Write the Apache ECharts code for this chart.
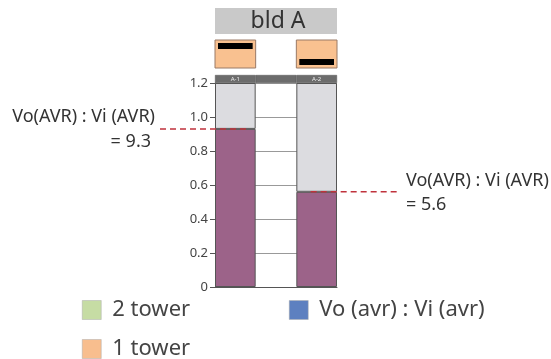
<!DOCTYPE html>
<html>
<head>
<meta charset="utf-8">
<script src="https://cdn.jsdelivr.net/npm/echarts@6/dist/echarts.min.js"></script>
<style>
  html, body { margin: 0; padding: 0; background: #fff; }
  #chart { width: 551px; height: 359px; }
</style>
</head>
<body>
<div id="chart"></div>
<script>
// Units of building A; the middle slot is the gap between the two towers
const categories = ['A-1', '', 'A-2'];
// Vo(avr) : Vi(avr) ratio per unit (scaled by 1/10 on the axis)
const ratioValues = [0.93, null, 0.56];
const ratioLabels = ['9.3', null, '5.6'];
const axisMax = 1.2;
const legendLeft = ['2 tower', '1 tower'];
const legendRight = ['Vo (avr) : Vi (avr)'];
const buildingName = 'bld A';
const annotationText = 'Vo(AVR) : Vi (AVR)';

const FONT = '"Noto Sans", "Open Sans", sans-serif';
const restValues = ratioValues.map(v => v == null ? null : +(axisMax - v).toFixed(2));

const chart = echarts.init(document.getElementById('chart'));

const legendText = { fontSize: 22, lineHeight: 19, color: '#444', fontFamily: FONT, padding: [0, 0, 0, 6] };

const option = {
  animation: false,
  textStyle: { fontFamily: FONT },
  grid: [
    { left: 215, right: 214, top: 83, bottom: 72 },
    { left: 215, right: 214, top: 75, height: 8 }
  ],
  xAxis: [
    {
      gridIndex: 0, type: 'category', data: categories,
      axisLine: { lineStyle: { color: '#555', width: 1 } },
      axisTick: { show: false }, axisLabel: { show: false },
      splitLine: { show: false }
    },
    {
      gridIndex: 1, type: 'category', data: categories,
      axisLine: { show: false }, axisTick: { show: false }, axisLabel: { show: false },
      splitLine: { show: false }
    }
  ],
  yAxis: [
    {
      gridIndex: 0, type: 'value', min: 0, max: axisMax, interval: 0.2,
      axisLine: { show: true, lineStyle: { color: '#555' } },
      axisTick: { show: true, length: 5, lineStyle: { color: '#555' } },
      axisLabel: {
        color: '#444', fontSize: 13, margin: 7,
        formatter: v => (v === 0 ? '0' : v.toFixed(1))
      },
      splitLine: { show: true, lineStyle: { color: '#999', width: 1.2, type: 'solid' } }
    },
    {
      gridIndex: 1, type: 'value', min: 0, max: 1, show: false
    }
  ],
  legend: [
    {
      data: legendLeft, orient: 'vertical', left: 82, top: 299, height: 80,
      padding: 0, icon: 'rect', itemWidth: 19, itemHeight: 19, itemGap: 17,
      itemStyle: { borderColor: '#aaa', borderWidth: 0.5 },
      textStyle: legendText, selectedMode: false
    },
    {
      data: legendRight, orient: 'vertical', left: 289, top: 299, height: 40,
      padding: 0, icon: 'rect', itemWidth: 19, itemHeight: 19,
      itemStyle: { borderColor: '#aaa', borderWidth: 0.5 },
      textStyle: legendText, selectedMode: false
    }
  ],
  series: [
    {
      name: 'ratio', type: 'bar', stack: 'u', xAxisIndex: 0, yAxisIndex: 0,
      barWidth: '100%', data: ratioValues,
      itemStyle: { color: '#9c6389', borderColor: '#555', borderWidth: 1 }
    },
    {
      name: 'rest', type: 'bar', stack: 'u', xAxisIndex: 0, yAxisIndex: 0,
      barWidth: '100%', data: restValues,
      itemStyle: { color: '#dcdce0', borderColor: '#555', borderWidth: 1 }
    },
    {
      name: 'header', type: 'bar', xAxisIndex: 1, yAxisIndex: 1,
      barWidth: '100%', data: categories.map(() => 1),
      itemStyle: { color: '#6c6c6c', borderColor: '#555', borderWidth: 0.5 },
      label: {
        show: true, position: 'inside', fontSize: 6, color: '#eee',
        formatter: p => categories[p.dataIndex]
      }
    },
    // Legend-only entries (no marks of their own)
    { name: legendLeft[0], type: 'line', data: [], itemStyle: { color: '#c6dca4' } },
    { name: legendLeft[1], type: 'line', data: [], itemStyle: { color: '#f8be8e' } },
    { name: legendRight[0], type: 'line', data: [], itemStyle: { color: '#5d80c0' } }
  ]
};
chart.setOption(option);

// Building title box and tower-position icons above each unit
function unitX(i) { return chart.convertToPixel({ xAxisIndex: 0 }, categories[i]); }
const left = unitX(0), right = unitX(2);
const half = (unitX(1) - unitX(0)) / 2;

const graphics = [
  { type: 'rect', shape: { x: left - half, y: 8, width: right - left + 2 * half, height: 26 },
    style: { fill: '#c9c9c9' } },
  { type: 'text', x: (left + right) / 2 + 2, y: 21,
    style: { text: buildingName, fill: '#333', font: '23px ' + FONT, textAlign: 'center', textVerticalAlign: 'middle' } },
  { type: 'rect', shape: { x: left - half, y: 40, width: 2 * half, height: 28 },
    style: { fill: '#f9c190', stroke: '#9a7a66', lineWidth: 1 } },
  { type: 'rect', shape: { x: left - half + 3, y: 43, width: 2 * half - 6, height: 6 },
    style: { fill: '#000' } },
  { type: 'rect', shape: { x: right - half, y: 40, width: 2 * half, height: 28 },
    style: { fill: '#f9c190', stroke: '#9a7a66', lineWidth: 1 } },
  { type: 'rect', shape: { x: right - half + 3, y: 59, width: 2 * half - 6, height: 6 },
    style: { fill: '#000' } }
];

// Dashed leader lines and ratio annotations at each bar top
const y1 = chart.convertToPixel({ gridIndex: 0 }, [categories[0], ratioValues[0]])[1];
const y2 = chart.convertToPixel({ gridIndex: 0 }, [categories[2], ratioValues[2]])[1];
const dash = { stroke: '#c0323c', lineWidth: 1.5, lineDash: [6, 4] };
const annFont = '18px ' + FONT;
graphics.push(
  { type: 'line', shape: { x1: 160, y1: y1, x2: left + 13, y2: y1 }, style: dash, z: 10 },
  { type: 'line', shape: { x1: right - 6, y1: y2, x2: 400, y2: y2 }, style: dash, z: 10 },
  { type: 'text', x: 155, y: y1 - 12,
    style: { text: annotationText, fill: '#333', font: annFont, textAlign: 'right', textVerticalAlign: 'middle' } },
  { type: 'text', x: 151, y: y1 + 13,
    style: { text: '= ' + ratioLabels[0], fill: '#333', font: annFont, textAlign: 'right', textVerticalAlign: 'middle' } },
  { type: 'text', x: 406, y: y2 - 11,
    style: { text: annotationText, fill: '#333', font: annFont, textAlign: 'left', textVerticalAlign: 'middle' } },
  { type: 'text', x: 406, y: y2 + 13,
    style: { text: '= ' + ratioLabels[2], fill: '#333', font: annFont, textAlign: 'left', textVerticalAlign: 'middle' } }
);
chart.setOption({ graphic: graphics });
</script>
</body>
</html>
